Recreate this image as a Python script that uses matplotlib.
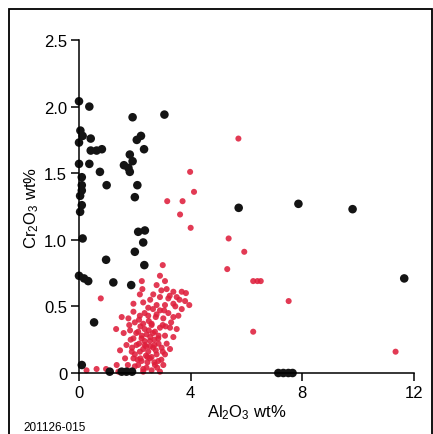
import numpy as np
import matplotlib
matplotlib.use('Agg')
import matplotlib.pyplot as plt
from matplotlib.patches import Rectangle

plt.rcParams['font.family'] = ['Liberation Sans', 'DejaVu Sans']
plt.rcParams['mathtext.default'] = 'regular'

# black group (Al2O3, Cr2O3 wt%)
black_al = [0.0, 0.37, 0.05, 0.0, 0.13, 0.42, 0.42, 0.63, 0.82, 0.0, 0.37, 0.75,
            0.99, 0.1, 0.1, 0.1, 0.04, 0.1, 0.04, 0.13, 0.0, 0.18, 0.33, 0.97,
            1.23, 1.87, 0.54, 0.1, 1.92, 3.06, 2.07, 2.22, 2.33, 1.82, 1.92, 1.61,
            1.77, 1.82, 2.09, 2.0, 2.12, 2.36, 2.3, 2.0, 2.34, 5.72, 7.86, 9.80,
            11.65, 7.14, 7.32, 7.5, 7.65, 1.1, 1.53, 1.7, 1.9]
black_cr = [2.04, 2.00, 1.82, 1.73, 1.78, 1.76, 1.67, 1.67, 1.68, 1.57, 1.57, 1.51,
            1.41, 1.47, 1.41, 1.37, 1.33, 1.26, 1.21, 1.01, 0.73, 0.71, 0.69, 0.85,
            0.68, 0.66, 0.38, 0.06, 1.92, 1.94, 1.75, 1.78, 1.68, 1.64, 1.59, 1.56,
            1.54, 1.51, 1.41, 1.32, 1.06, 1.07, 0.98, 0.91, 0.81, 1.24, 1.27, 1.23,
            0.71, 0.0, 0.0, 0.0, 0.0, 0.01, 0.01, 0.01, 0.01]

# red group
red_al = [5.71, 3.98, 4.12, 3.16, 3.71, 3.62, 4.0, 5.36, 5.92, 5.31, 6.24, 6.39,
          6.51, 7.51, 6.24, 11.34, 0.78, 2.25, 3.0,
          2.9, 3.08, 2.78, 3.14, 3.38, 3.68, 3.83, 2.66, 2.9, 3.2, 3.5, 3.8, 3.95,
          2.18, 1.95, 2.3, 2.48, 2.78, 3.08, 3.38, 3.68, 1.95, 2.18, 2.48, 2.78,
          3.02, 3.38, 3.56, 1.53, 1.77, 2.0, 2.3, 2.6, 2.9, 3.26, 3.5, 1.33, 1.83,
          2.12, 2.42, 2.72, 3.08, 3.38, 1.95, 2.24, 2.54, 2.84, 3.14, 1.7, 2.06,
          2.36, 2.66, 2.96, 1.47, 1.89, 2.18, 2.48, 2.78, 3.08, 3.26, 1.65, 1.95,
          2.24, 2.54, 2.84, 2.12, 2.42, 2.72, 3.02, 2.6, 2.9, 2.3, 1.35, 1.41,
          0.63, 0.27, 0.97, 2.27,
          2.2, 2.5, 2.7, 2.3, 2.6, 2.0, 2.8, 2.45, 2.15, 2.75, 2.35, 2.55, 2.9,
          3.2, 3.1, 2.05, 1.85, 2.65, 3.3, 1.6, 2.95, 3.45, 2.4, 2.1, 2.85, 2.55,
          2.25, 2.7, 3.0, 2.35, 1.9, 2.6,
          2.0, 2.4, 2.65, 2.85, 2.15, 2.5, 2.75, 3.05, 2.3, 2.55, 1.8, 2.95,
          3.25, 3.6, 2.45, 2.2, 2.7, 3.0, 1.75, 2.35]
red_cr = [1.76, 1.51, 1.36, 1.29, 1.29, 1.19, 1.09, 1.01, 0.91, 0.78, 0.69, 0.69,
          0.69, 0.54, 0.31, 0.16, 0.56, 0.69, 0.81,
          0.73, 0.69, 0.66, 0.63, 0.61, 0.61, 0.60, 0.59, 0.57, 0.56, 0.57, 0.54, 0.51,
          0.59, 0.52, 0.53, 0.49, 0.51, 0.51, 0.52, 0.48, 0.46, 0.43, 0.43, 0.44,
          0.41, 0.42, 0.43, 0.42, 0.41, 0.38, 0.37, 0.36, 0.34, 0.34, 0.33, 0.33, 0.32,
          0.31, 0.29, 0.31, 0.28, 0.27, 0.26, 0.26, 0.24, 0.26, 0.22, 0.21, 0.21,
          0.21, 0.19, 0.19, 0.17, 0.16, 0.16, 0.16, 0.14, 0.14, 0.18, 0.11, 0.11,
          0.09, 0.11, 0.09, 0.06, 0.04, 0.06, 0.06, 0.02, 0.01, 0.01, 0.06, 0.01,
          0.03, 0.02, 0.03, 0.63,
          0.35, 0.32, 0.25, 0.18, 0.12, 0.05, 0.04, 0.08, 0.22, 0.42, 0.45, 0.55, 0.47,
          0.45, 0.35, 0.30, 0.25, 0.48, 0.38, 0.30, 0.62, 0.50, 0.13, 0.10, 0.28, 0.20,
          0.28, 0.08, 0.16, 0.24, 0.19, 0.37,
          0.14, 0.20, 0.30, 0.22, 0.40, 0.39, 0.17, 0.47, 0.03, 0.27, 0.36, 0.10,
          0.58, 0.55, 0.12, 0.11, 0.21, 0.36, 0.06, 0.33]

fig = plt.figure(figsize=(4.33, 4.35), dpi=100)
fig.patches.append(Rectangle((9 / 433, -0.1), 423 / 433, 1.1 - 10 / 435,
                             transform=fig.transFigure, fill=False,
                             edgecolor='black', linewidth=1.3))

ax = fig.add_axes([79 / 433, 1 - 374 / 435, 335 / 433, 333 / 435])
ax.scatter(red_al, red_cr, s=19, color='#de1f3c', edgecolors='none',
           alpha=0.88, clip_on=False, zorder=2)
ax.scatter(black_al, black_cr, s=38, color='#141414', edgecolors='none',
           clip_on=False, zorder=3)

ax.set_xlim(0, 12)
ax.set_ylim(0, 2.5)
ax.set_xticks([0, 4, 8, 12])
ax.set_yticks([0, 0.5, 1.0, 1.5, 2.0, 2.5])
ax.set_yticklabels(['0', '0.5', '1.0', '1.5', '2.0', '2.5'])
ax.spines['top'].set_visible(False)
ax.spines['right'].set_visible(False)
for side in ['left', 'bottom']:
    ax.spines[side].set_linewidth(1.1)
    ax.spines[side].set_zorder(4)
ax.tick_params(direction='out', length=5.5, width=1.1, labelsize=12, pad=3)

ax.set_xlabel(r'Al$_2$O$_3$ wt%', fontsize=12, labelpad=2)
ax.set_ylabel(r'Cr$_2$O$_3$ wt%', fontsize=12, labelpad=2)

fig.text(23 / 433, 1 - 428 / 435, '201126-015', fontsize=8.5, va='center', ha='left')

fig.savefig('out.png', dpi=100)
